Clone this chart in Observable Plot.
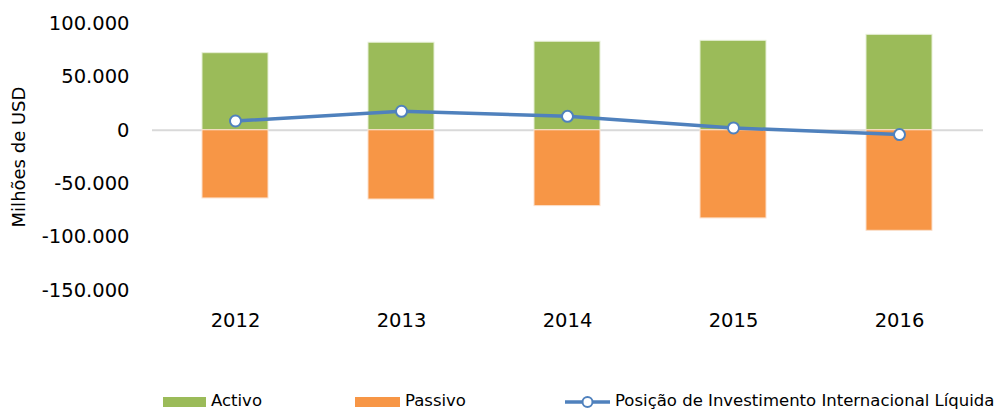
<!DOCTYPE html>
<html>
<head>
<meta charset="utf-8">
<script src="https://cdn.jsdelivr.net/npm/d3@7"></script>
<script src="https://cdn.jsdelivr.net/npm/@observablehq/plot@0.6"></script>
<style>
  html, body { margin: 0; padding: 0; background: #fff; }
  #wrap { position: relative; width: 998px; height: 409px; font-family: "DejaVu Sans", sans-serif; }
  #legend { position: relative; width: 998px; height: 29px; }
  .sw { position: absolute; }
  .lt { position: absolute; font-size: 16.5px; color: #000; line-height: 1; }
</style>
</head>
<body>
<div id="wrap">
  <div id="chart"></div>
  <div id="legend"></div>
</div>
<script>
const years = ["2012", "2013", "2014", "2015", "2016"];
const activo = [72200, 82000, 82900, 83800, 89400];
const passivo = [-63800, -64800, -71000, -82500, -94100];
const posicao = [8700, 17800, 13100, 2200, -4000];
const yTicks = [100000, 50000, 0, -50000, -100000, -150000];
const seriesNames = ["Activo", "Passivo", "Posição de Investimento Internacional Líquida"];
const colors = ["#9BBB59", "#F79646", "#4F81BD"];

const rows = years.map((y, i) => ({year: y, activo: activo[i], passivo: passivo[i], posicao: posicao[i]}));
const fmt = d3.formatLocale({decimal: ",", thousands: ".", grouping: [3], currency: ["", ""], minus: "-"}).format(",");

const chart = Plot.plot({
  width: 998,
  height: 380,
  marginTop: 23,
  marginBottom: 90,
  marginLeft: 152,
  marginRight: 15,
  style: {fontFamily: "DejaVu Sans, sans-serif", color: "#000", background: "#fff"},
  x: {domain: years, paddingInner: 0.6, paddingOuter: 0.3},
  y: {domain: [-150000, 100000]},
  marks: [
    Plot.ruleY([0], {stroke: "#D9D9D9", strokeWidth: 2}),
    Plot.barY(rows, {x: "year", y1: 0, y2: "activo", fill: colors[0], stroke: "#E6EFD6", strokeWidth: 1}),
    Plot.barY(rows, {x: "year", y1: 0, y2: "passivo", fill: colors[1], stroke: "#FBE0CC", strokeWidth: 1}),
    Plot.line(rows, {x: "year", y: "posicao", stroke: colors[2], strokeWidth: 3.5}),
    Plot.dot(rows, {x: "year", y: "posicao", r: 5.5, fill: "#fff", stroke: colors[2], strokeWidth: 2}),
    Plot.axisY({ticks: yTicks, tickFormat: fmt, tickSize: 0, tickPadding: 23, fontSize: 19.5, label: null}),
    Plot.axisX({tickSize: 0, tickPadding: 23, fontSize: 19.5, label: null}),
    Plot.text(["Milhões de USD"], {frameAnchor: "left", textAnchor: "middle", dx: -133, rotate: -90, fontSize: 18, fill: "#000"})
  ]
});
document.getElementById("chart").appendChild(chart);

// Legend
const legend = document.getElementById("legend");
const items = [
  {x: 163, w: 43, tx: 211, type: "rect"},
  {x: 355, w: 45, tx: 405, type: "rect"},
  {x: 565, w: 45, tx: 615, type: "line"}
];
items.forEach((it, i) => {
  if (it.type === "rect") {
    const s = document.createElement("div");
    s.className = "sw";
    s.style.left = it.x + "px"; s.style.top = "17px";
    s.style.width = it.w + "px"; s.style.height = "10px";
    s.style.background = colors[i];
    legend.appendChild(s);
  } else {
    const ns = "http://www.w3.org/2000/svg";
    const svg = document.createElementNS(ns, "svg");
    svg.setAttribute("width", it.w); svg.setAttribute("height", 14);
    svg.style.position = "absolute"; svg.style.left = it.x + "px"; svg.style.top = "15px";
    const ln = document.createElementNS(ns, "line");
    ln.setAttribute("x1", 0); ln.setAttribute("x2", it.w); ln.setAttribute("y1", 7); ln.setAttribute("y2", 7);
    ln.setAttribute("stroke", colors[i]); ln.setAttribute("stroke-width", 3.5);
    const c = document.createElementNS(ns, "circle");
    c.setAttribute("cx", it.w / 2); c.setAttribute("cy", 7); c.setAttribute("r", 5);
    c.setAttribute("fill", "#fff"); c.setAttribute("stroke", colors[i]); c.setAttribute("stroke-width", 2);
    svg.appendChild(ln); svg.appendChild(c);
    legend.appendChild(svg);
  }
  const t = document.createElement("div");
  t.className = "lt";
  t.style.left = it.tx + "px"; t.style.top = "13px";
  t.textContent = seriesNames[i];
  legend.appendChild(t);
});
</script>
</body>
</html>
